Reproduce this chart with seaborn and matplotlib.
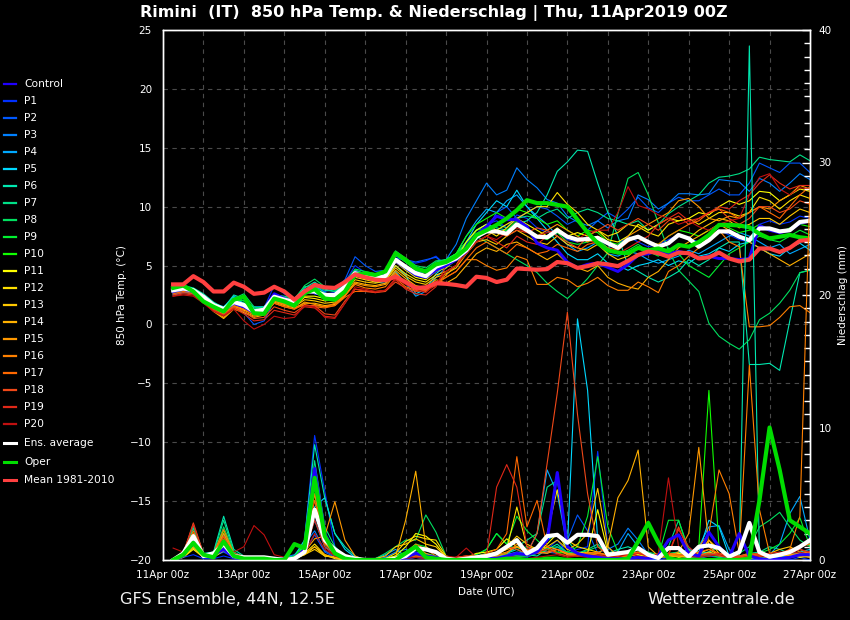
import matplotlib
matplotlib.use("Agg")
import matplotlib.pyplot as plt
import seaborn as sns
import pandas as pd
from matplotlib.lines import Line2D
from matplotlib.ticker import MultipleLocator

# ---------------- data ----------------
HOURS = list(range(6, 385, 6))          # forecast steps (h after 11Apr 00z)
X_TICK_HOURS = [0, 48, 96, 144, 192, 240, 288, 336, 384]
X_TICK_LABELS = ["11Apr 00z", "13Apr 00z", "15Apr 00z", "17Apr 00z", "19Apr 00z",
                 "21Apr 00z", "23Apr 00z", "25Apr 00z", "27Apr 00z"]
MEMBER_NAMES = ["Control"] + [f"P{i}" for i in range(1, 21)]
MEMBER_COLORS = ["#2000ff", "#0030ff", "#0058ff", "#0080ff", "#00a8ff", "#00d8ff",
                 "#00e8b0", "#00e088", "#00e060", "#00f030", "#10ff00",
                 "#ffff00", "#ffe000", "#ffc800", "#ffb000", "#ff9800",
                 "#ff8000", "#ff6800", "#f04818", "#e02818", "#c01010"]

# 850 hPa temperature (degC)
T_CONTROL = [2.8,3.0,2.8,2.2,1.6,1.2,1.8,1.5,1.0,1.3,2.6,2.2,1.8,2.9,2.7,2.5,2.4,3.3,4.4,4.2,4.0,4.2,5.4,4.8,4.2,4.0,4.6,
             5.0,5.5,6.2,7.6,8.3,9.2,8.9,8.9,8.3,6.9,6.5,6.3,5.3,4.8,5.1,5.2,4.85,4.5,5.1,5.9,6.0,6.3,6.0,6.2,6.0,5.6,5.8,5.6,5.6,5.5,5.6,8.4,8.0,7.8,8.0,8.6,8.8]
T_P1 = [2.7,2.9,2.9,2.3,1.5,1.0,1.7,1.4,0.9,1.4,3.3,2.6,2.0,3.0,3.0,2.6,2.7,3.6,5.0,4.4,4.2,4.5,5.8,5.4,5.2,5.4,5.8,
        5.0,5.5,6.8,8.0,8.5,8.8,8.2,9.3,9.0,8.2,7.8,8.0,7.2,7.0,7.5,7.2,6.5,6.8,7.5,7.0,6.6,6.8,7.2,7.6,7.3,7.0,7.5,8.0,7.6,7.2,7.0,8.5,8.8,8.5,8.7,9.2,9.0]
T_P2 = [2.6,2.8,2.6,2.0,1.4,0.8,1.5,1.0,0.0,0.3,2.0,1.8,1.7,2.6,3.2,2.8,3.0,3.8,5.75,5.0,4.5,4.6,5.6,5.5,5.3,5.5,5.7,
        5.0,5.5,6.5,7.5,8.0,9.5,10.0,9.0,9.5,10.0,9.8,9.2,8.5,8.9,8.0,8.8,9.5,9.0,9.8,10.8,9.9,9.5,10.3,10.8,10.5,10.5,11.0,11.5,11.0,11.0,12.0,13.7,13.3,12.9,13.7,13.7,12.9]
T_P3 = [2.5,2.7,2.7,2.2,1.7,1.3,2.3,1.7,1.2,1.4,2.4,2.0,2.0,3.0,2.6,2.4,2.6,3.4,4.6,4.3,4.2,4.4,5.4,4.9,4.5,4.4,5.2,
        5.5,6.8,9.0,10.5,12.0,11.0,11.4,13.3,12.3,11.6,10.6,10.3,9.2,8.7,8.4,8.8,8.2,8.8,9.0,11.0,10.6,9.8,10.3,11.1,11.1,11.0,11.1,12.3,12.2,12.1,11.3,12.4,12.0,11.3,12.0,12.8,12.3]
T_P4 = [2.6,2.8,2.6,2.0,1.6,1.4,2.4,2.0,1.5,1.5,2.6,2.3,2.0,2.9,3.3,2.7,2.4,3.1,4.4,4.0,3.6,3.5,4.5,3.5,2.4,2.8,4.0,
        4.8,6.0,7.5,8.8,9.8,9.5,10.5,11.0,10.0,9.2,8.5,7.5,6.8,6.2,6.5,7.0,6.0,5.8,6.2,6.0,5.5,5.2,5.5,5.8,6.3,6.0,6.5,7.0,7.5,7.8,7.5,7.0,6.5,6.8,6.0,6.4,6.8]
T_P5 = [2.9,3.1,3.0,2.4,1.8,1.5,2.3,1.8,1.3,1.2,2.2,2.0,1.8,2.6,3.0,2.6,2.5,3.0,4.2,4.0,3.7,3.9,5.0,4.2,2.6,3.0,4.3,
        5.0,5.8,7.0,8.5,9.5,10.5,10.0,11.4,10.0,9.0,8.0,7.0,6.0,5.5,5.5,6.0,5.2,5.0,4.6,5.0,5.2,5.5,5.0,5.4,5.2,5.8,6.0,6.5,6.2,6.8,7.0,6.5,6.0,5.8,6.5,6.9,6.3]
T_P6 = [3.2,3.3,3.1,2.6,1.9,1.4,2.5,2.2,1.4,1.5,2.4,2.2,2.0,3.1,3.6,3.0,2.8,3.3,4.4,4.4,4.2,4.3,5.9,5.3,4.7,4.5,5.2,
        5.5,6.0,7.0,8.0,8.5,8.2,8.0,8.5,8.8,9.5,11.0,13.0,13.8,14.8,14.7,12.0,9.5,7.5,5.0,4.5,4.0,3.6,4.0,4.5,5.5,5.0,5.5,6.5,7.0,7.0,-3.4,-3.4,-3.3,-3.9,0.3,4.4,4.6]
T_P7 = [3.0,3.1,2.9,2.3,1.6,1.2,2.0,1.8,1.3,1.5,2.5,2.4,2.2,3.2,3.3,2.9,2.8,3.5,4.6,4.3,4.2,4.4,6.0,5.5,4.9,4.6,5.3,
        5.5,6.0,6.5,7.2,8.0,8.5,8.2,9.0,9.2,9.0,9.5,9.8,9.0,9.5,9.8,9.5,9.0,8.8,8.5,8.8,8.0,8.5,9.4,10.0,10.5,11.0,12.0,12.5,12.6,12.8,13.2,14.2,14.0,13.9,13.8,14.4,13.9]
T_P8 = [3.1,3.2,3.0,2.4,1.7,1.3,2.2,2.6,1.5,1.3,2.5,2.3,2.1,3.3,3.85,3.2,2.9,3.6,4.7,4.5,4.3,4.5,6.25,5.6,5.0,4.8,5.4,
        5.5,6.0,6.5,7.5,7.0,6.5,6.0,5.5,5.0,4.4,3.5,2.8,2.2,3.0,3.9,5.0,6.1,9.4,12.4,12.9,11.0,8.6,6.3,4.6,3.7,2.8,0.1,-1.0,-1.6,-2.1,-1.3,0.4,0.95,1.8,2.9,4.4,4.6]
T_P9 = [2.9,3.2,3.0,2.2,1.5,1.1,2.1,2.0,1.2,1.1,2.3,2.0,1.8,2.9,3.2,2.6,2.5,3.2,4.3,4.2,4.0,4.2,5.9,5.3,4.6,4.4,5.1,
        5.5,6.0,7.0,8.0,8.2,7.8,8.0,8.8,8.2,7.5,7.2,7.8,7.0,6.8,7.0,7.2,6.5,6.0,6.3,6.8,6.2,5.8,6.5,6.0,5.0,4.5,4.0,5.0,6.0,6.5,7.0,7.5,7.2,7.0,7.5,8.0,7.6]
T_P10 = [3.0,3.3,2.9,2.1,1.4,1.0,2.0,2.3,1.0,0.9,2.2,2.0,1.7,2.7,3.0,2.3,2.2,2.9,4.2,4.3,4.1,4.4,6.0,5.4,4.7,4.5,5.2,
         5.3,6.0,7.5,8.5,9.0,9.5,9.0,9.8,9.5,9.0,8.5,8.8,8.0,7.5,8.0,7.8,7.0,6.8,7.3,7.5,7.0,6.8,7.5,8.0,7.8,7.5,8.0,8.5,8.2,7.8,8.0,8.5,8.0,7.8,8.2,8.5,8.3]
T_P11 = [2.8,3.0,2.8,2.2,1.5,1.1,1.6,1.3,1.0,1.2,2.2,1.9,1.6,2.4,2.4,2.2,2.3,3.0,4.2,3.9,3.8,4.0,5.3,4.6,4.0,3.8,4.5,
         4.8,5.5,7.0,8.0,8.5,8.0,8.5,9.0,8.5,8.0,7.5,8.2,7.5,7.8,7.5,8.0,7.2,7.0,7.5,8.5,8.0,8.5,9.0,8.8,9.0,9.5,9.3,10.0,10.5,10.2,10.5,11.3,11.2,10.5,11.0,11.5,11.3]
T_P12 = [2.9,3.1,2.8,2.0,1.3,0.9,1.5,1.3,0.8,1.0,2.0,1.7,1.5,2.3,2.2,2.0,2.1,2.8,4.0,3.8,3.6,3.7,5.0,4.3,3.8,3.6,4.2,
         4.5,5.0,6.5,7.5,8.0,7.5,8.2,9.0,9.5,10.0,10.0,11.2,10.2,9.5,8.5,8.0,7.5,7.8,8.5,8.3,7.8,7.5,8.5,8.8,9.0,8.5,9.0,9.5,9.5,9.2,9.5,10.8,10.5,9.8,10.5,11.0,10.7]
T_P13 = [3.0,3.2,3.0,2.1,1.2,0.6,1.4,1.2,0.9,1.0,2.1,1.8,1.5,2.1,2.0,1.8,1.9,2.7,3.8,3.6,3.5,3.7,4.8,4.1,3.6,3.4,4.0,
         4.3,4.8,6.0,7.0,7.2,6.8,7.5,8.0,7.5,7.0,6.8,7.5,6.8,6.5,6.3,6.8,6.0,5.5,5.8,6.5,6.0,6.3,7.0,7.5,7.3,8.0,8.5,9.0,8.8,8.2,8.5,9.0,9.0,8.5,9.2,9.8,9.5]
T_P14 = [2.7,2.9,2.8,2.0,1.1,0.5,1.3,1.0,0.6,0.8,1.9,1.6,1.4,1.8,1.8,1.6,1.7,2.5,3.6,3.4,3.3,3.5,4.6,3.9,3.3,3.1,3.8,
         3.5,4.0,5.0,6.0,6.5,6.2,6.8,7.0,6.5,6.0,5.5,6.0,5.2,4.8,4.5,5.0,4.0,3.5,3.2,3.0,4.0,4.5,5.5,6.5,7.0,7.5,8.0,8.5,8.0,7.5,7.0,6.5,6.0,5.5,5.0,5.5,6.0]
T_P15 = [2.8,3.0,2.7,1.9,1.2,0.7,1.4,1.1,0.7,0.9,1.8,1.5,1.3,1.9,1.7,1.5,1.6,2.4,3.5,3.3,3.2,3.4,4.4,3.5,3.0,2.9,3.5,
         4.2,5.0,6.0,7.0,7.5,8.0,7.5,8.5,8.0,7.5,8.0,8.5,8.0,7.5,7.0,7.5,7.0,6.5,7.5,8.0,8.5,9.0,9.5,10.5,10.7,10.0,9.0,8.8,9.2,9.0,9.5,10.0,9.8,10.5,11.0,11.8,11.5]
T_P16 = [2.9,3.1,2.9,2.2,1.4,0.9,1.7,1.5,1.0,1.1,2.0,1.7,1.5,1.6,1.6,1.5,1.8,2.5,3.4,3.1,3.0,3.2,4.3,3.6,3.1,3.0,3.6,
         4.0,4.5,5.5,5.5,5.0,4.6,4.8,5.8,5.5,3.4,3.4,4.0,3.8,3.2,3.5,4.0,3.3,2.9,2.9,3.6,3.2,2.7,4.5,5.0,5.8,6.5,7.5,8.0,7.0,6.6,-0.2,-0.2,-0.1,0.6,1.5,1.6,1.0]
T_P17 = [2.6,2.8,2.7,2.1,1.4,1.0,1.6,1.3,0.8,0.9,1.8,1.5,1.3,1.7,1.5,1.4,1.6,2.3,2.8,2.8,2.8,2.9,3.9,3.2,2.9,2.8,3.4,
         4.0,4.5,5.5,6.5,7.0,6.5,6.0,6.8,6.5,6.0,6.2,6.8,6.5,6.2,6.8,7.0,6.5,6.3,7.0,7.5,7.0,6.8,7.5,8.0,8.5,8.8,9.5,9.8,9.5,9.0,9.5,10.0,9.5,9.0,10.0,11.0,11.7]
T_P18 = [2.5,2.7,2.6,2.0,1.3,0.8,1.5,1.1,0.5,0.6,1.5,1.2,1.0,1.6,1.6,0.9,0.8,2.0,3.0,2.8,2.7,2.8,3.6,3.1,2.8,2.9,3.3,
         4.5,5.0,6.5,7.5,8.0,7.8,7.5,8.0,7.8,8.2,8.0,7.5,7.0,6.5,7.5,8.0,8.5,8.0,8.5,9.0,8.5,8.0,8.8,9.2,8.5,9.0,9.5,9.8,9.0,8.5,9.0,10.0,10.0,9.5,9.8,10.5,10.2]
T_P19 = [2.4,2.6,2.5,1.9,1.2,0.8,1.4,0.9,0.3,0.4,1.2,1.0,0.8,1.5,1.4,0.7,0.6,1.8,3.0,2.9,2.7,2.9,3.8,3.0,2.6,2.5,3.2,
         5.0,5.5,6.5,7.0,7.5,7.0,6.5,7.5,7.0,6.8,7.5,8.0,7.5,7.0,7.2,6.8,6.2,6.0,6.5,7.0,7.5,8.5,9.0,9.5,8.8,9.0,9.5,10.0,9.8,10.5,11.0,12.0,12.7,12.0,11.5,11.8,11.8]
T_P20 = [2.4,2.5,2.4,1.8,1.1,0.7,1.3,0.3,-0.4,0.0,0.7,0.5,0.6,1.6,1.5,0.6,0.5,1.8,3.2,3.0,2.8,2.9,3.9,3.4,3.0,2.7,3.5,
         4.5,5.0,6.0,7.0,7.5,7.2,7.8,8.2,7.8,7.5,7.8,8.0,7.5,7.2,7.8,8.0,8.0,9.5,11.7,10.1,9.8,9.3,9.0,8.5,8.8,8.3,8.0,8.5,8.8,9.0,11.0,12.5,12.8,11.5,11.0,11.6,11.5]
T_ENS_AVG = [2.9,3.05,2.9,2.35,1.65,1.3,1.9,1.65,1.1,1.25,2.35,2.1,1.9,2.8,2.8,2.5,2.5,3.2,4.35,4.1,
             3.95,4.1,5.5,4.9,4.35,4.1,4.9,5.25,5.6,6.3,7.45,7.9,7.9,7.7,8.5,8.0,7.45,7.4,8.0,7.45,
             7.2,7.25,7.35,6.9,6.5,7.2,7.45,7.0,6.6,6.9,7.6,7.3,6.6,7.15,7.9,7.9,7.45,7.15,8.15,8.15,
             7.9,8.0,8.7,8.8]
T_OPER = [3.1,3.3,2.8,1.95,1.5,1.1,2.1,2.35,0.95,0.9,2.2,1.95,1.6,2.65,3.0,2.2,2.1,2.8,4.2,4.35,
          4.2,4.5,6.05,5.5,4.75,4.5,5.1,5.3,5.75,6.45,7.6,8.0,8.45,9.0,9.7,10.55,10.3,10.3,10.15,10.0,
          8.9,7.8,6.9,6.3,6.1,6.05,6.5,6.3,6.45,6.2,6.75,6.6,7.0,7.6,8.45,8.45,8.4,8.25,7.7,7.3,
          7.45,7.6,7.4,7.3]
T_MEAN_CLIM = [3.4,3.4,4.1,3.6,2.8,2.8,3.55,3.2,2.6,2.7,3.2,2.8,2.1,2.8,3.35,3.15,3.1,3.6,4.25,4.0,
               3.8,3.75,4.05,3.6,3.1,3.15,3.5,3.45,3.35,3.2,4.05,3.95,3.6,3.8,4.75,4.7,4.65,4.7,5.3,5.2,
               4.8,4.95,5.2,5.1,4.95,5.4,5.9,6.2,6.05,5.75,6.1,6.05,5.6,5.7,6.1,5.6,5.35,5.5,6.45,6.45,
               6.15,6.5,7.1,7.2]

# 6-hourly precipitation (mm)
P_CONTROL = [0.0,0.3,1.5,0.3,0.4,0.8,0.2,0.1, 0.1,0.1,0.0,0.0,0.1,0.8,6.9,2.0, 0.5,0.1,0.0,0.0,0.0,0.0,0.0,0.2, 0.5,0.3,0.2,0.0,0.0,0.0,0.1,0.2,
             0.1,0.3,0.5,0.4,0.6,1.5,6.6,1.0, 0.5,0.3,0.2,0.1,0.1,0.1,0.2,0.1, 0.3,1.5,1.9,0.5,0.3,2.1,1.0,0.2, 2.0,0.3,0.1,0.0,0.1,0.2,0.4,0.4]
P_P1 = [0.0,0.2,0.4,0.1,0.1,0.3,0.1,0.0, 0.0,0.0,0.0,0.0,0.2,1.5,9.4,5.2, 1.0,0.2,0.0,0.0,0.0,0.0,0.0,0.0, 0.2,0.1,0.0,0.0,0.0,0.0,0.0,0.1,
        0.0,0.2,0.3,0.2,0.5,0.8,1.5,0.5, 0.8,1.0,8.2,1.0,0.2,0.1,0.3,0.1, 0.0,0.2,0.5,0.1,0.2,0.3,0.5,0.3, 0.2,0.0,0.1,0.0,0.0,0.0,0.2,0.0]
P_P2 = [0.0,0.3,1.0,0.2,0.3,0.6,0.2,0.1, 0.0,0.1,0.0,0.0,0.1,0.6,1.9,0.6, 0.2,0.0,0.0,0.0,0.0,0.1,0.3,0.5, 0.2,0.1,0.0,0.0,0.0,0.0,0.1,0.3,
        0.2,0.5,0.3,0.3,0.8,0.6,0.5,1.5, 3.4,2.2,0.5,0.3,0.2,0.1,0.2,0.1, 0.2,0.3,0.4,0.2,0.1,0.3,0.2,0.1, 0.3,0.2,0.0,0.1,0.2,0.3,0.4,0.2]
P_P3 = [0.0,0.2,1.2,0.3,0.2,0.9,0.3,0.1, 0.1,0.0,0.1,0.2,0.4,1.2,2.2,0.7, 0.3,0.1,0.0,0.0,0.0,0.2,0.6,0.8, 0.5,0.2,0.1,0.0,0.0,0.1,0.2,0.1,
        0.3,0.2,0.5,0.4,0.6,0.5,1.0,0.4, 0.3,0.5,0.6,0.8,1.2,2.4,1.5,0.4, 0.2,0.5,0.3,0.2,0.4,0.6,0.3,0.2, 0.1,0.2,0.5,0.3,0.1,0.2,0.3,0.5]
P_P4 = [0.0,0.4,1.3,0.4,0.3,2.0,0.5,0.2, 0.1,0.0,0.1,0.1,0.3,0.9,3.0,1.0, 0.5,0.2,0.0,0.0,0.1,0.4,0.8,0.3, 0.5,0.3,0.1,0.0,0.1,0.0,0.1,0.3,
        0.2,0.4,0.6,0.5,2.0,6.8,5.0,1.0, 0.5,0.4,0.3,0.2,0.6,2.0,1.0,0.5, 0.3,0.4,0.6,0.5,1.0,2.5,2.6,0.8, 0.3,0.2,0.1,0.4,1.2,3.5,4.8,1.5]
P_P5 = [0.0,0.3,1.4,0.4,0.2,1.5,0.4,0.2, 0.1,0.0,0.0,0.1,0.3,1.0,4.0,4.7, 2.0,0.8,0.2,0.0,0.0,0.0,0.2,0.4, 0.6,0.4,0.2,0.0,0.0,0.1,0.2,0.3,
        0.3,0.5,1.0,0.8,0.5,1.5,2.0,1.0, 18.2,12.8,1.5,0.4,0.3,0.5,0.4,0.3, 0.2,0.3,0.5,0.8,0.6,3.0,2.5,0.3, 0.2,0.4,0.3,0.1,0.2,0.4,0.6,0.8]
P_P6 = [0.0,0.5,2.6,0.5,0.6,3.3,0.8,0.3, 0.1,0.1,0.0,0.1,0.3,1.5,8.7,4.7, 2.0,1.0,0.3,0.0,0.0,0.0,0.1,0.3, 0.4,0.2,0.1,0.0,0.0,0.1,0.2,0.3,
        0.2,0.5,0.8,0.4,0.3,0.8,1.2,0.5, 0.4,0.3,0.2,0.5,0.8,1.0,0.7,0.3, 0.2,0.4,0.3,0.2,0.5,0.6,1.0,0.3, 0.2,38.8,0.3,0.1,0.2,0.5,0.4,0.3]
P_P7 = [0.0,0.4,2.4,0.4,0.5,3.0,0.6,0.2, 0.1,0.0,0.0,0.1,0.2,1.2,7.5,2.5, 1.0,0.3,0.0,0.0,0.0,0.1,0.2,0.3, 0.4,0.5,0.3,0.1,0.0,0.1,0.3,0.5,
        0.3,0.5,1.0,1.5,2.0,5.5,6.0,1.5, 0.5,0.8,1.2,0.4,0.3,0.3,0.5,0.3, 0.5,1.0,3.0,0.8,0.2,0.3,0.5,0.4, 0.3,0.5,0.6,1.0,0.8,0.5,0.6,0.5]
P_P8 = [0.0,0.4,2.0,0.3,0.4,2.5,0.6,0.2, 0.1,0.1,0.1,0.1,0.3,1.1,5.5,1.5, 0.8,0.2,0.0,0.0,0.1,0.5,1.0,1.5, 1.5,3.4,2.1,0.3,0.1,0.2,0.4,0.8,
        2.0,1.2,0.8,1.0,0.6,0.9,1.0,0.6, 0.5,0.7,1.0,0.6,0.4,0.5,0.8,0.6, 0.4,0.5,0.6,0.3,0.2,0.5,0.3,0.2, 0.5,1.0,2.5,3.0,3.6,2.5,1.5,1.0]
P_P9 = [0.0,0.3,1.5,0.2,0.3,1.8,0.4,0.1, 0.0,0.0,0.0,0.1,0.2,1.3,5.0,1.2, 0.5,0.1,0.0,0.0,0.0,0.1,0.3,0.6, 1.2,1.0,0.5,0.1,0.0,0.2,0.4,0.8,
        2.0,1.2,3.3,2.2,1.5,0.8,0.5,0.6, 1.0,3.3,7.8,2.5,0.6,0.3,0.4,0.3, 0.3,3.0,3.0,0.6,0.3,0.4,0.2,0.3, 0.2,0.3,0.5,0.8,1.2,2.0,3.2,1.0]
P_P10 = [0.0,0.5,1.8,0.4,0.2,2.2,0.5,0.1, 0.1,0.0,0.0,0.1,0.2,1.0,5.8,2.0, 0.5,0.1,0.0,0.0,0.0,0.0,0.1,0.2, 0.3,0.4,0.2,0.1,0.0,0.0,0.2,0.5,
         0.5,0.4,0.3,0.3,0.5,0.8,0.6,0.5, 0.3,0.4,0.5,0.4,0.2,0.1,0.3,0.2, 0.3,0.2,0.4,0.2,1.0,12.8,1.0,0.3, 0.2,0.1,0.2,0.3,0.4,0.6,0.8,0.5]
P_P11 = [0.0,0.2,0.8,0.2,0.2,0.7,0.2,0.1, 0.0,0.0,0.0,0.0,0.1,0.4,1.0,0.3, 0.2,0.0,0.0,0.0,0.0,0.1,0.3,1.0, 2.0,1.8,1.2,0.2,0.1,0.2,0.5,0.6,
         0.8,1.6,1.0,0.7,0.6,1.2,2.0,0.8, 0.6,0.5,3.8,0.6,0.3,0.5,0.4,0.2, 0.3,0.4,0.2,0.3,0.5,0.8,0.4,0.2, 0.1,0.3,0.5,0.2,0.3,0.4,0.2,0.3]
P_P12 = [0.0,0.2,0.9,0.2,0.3,1.2,0.2,0.1, 0.0,0.0,0.0,0.0,0.1,0.5,1.2,0.4, 0.1,0.0,0.0,0.0,0.0,0.1,0.5,1.4, 1.8,1.6,1.5,0.3,0.1,0.1,0.2,0.3,
         0.5,0.8,4.0,1.0,0.8,2.0,5.3,1.5, 1.0,0.8,0.6,0.3,0.2,0.4,0.3,0.2, 0.2,0.3,0.5,0.4,0.6,1.5,0.5,0.3, 0.2,0.1,0.3,0.2,0.4,0.3,0.5,0.4]
P_P13 = [0.0,0.3,1.0,0.3,0.3,1.5,0.3,0.1, 0.0,0.0,0.1,0.0,0.1,0.4,0.8,0.3, 0.2,0.1,0.0,0.0,0.1,0.3,1.0,1.2, 1.6,1.2,1.0,0.2,0.1,0.2,0.3,0.4,
         0.6,1.0,1.8,1.2,0.8,1.0,1.5,0.8, 1.2,2.0,5.4,1.0,0.3,0.4,0.5,0.3, 0.3,0.5,0.4,0.2,0.3,0.6,0.4,0.2, 0.1,0.3,0.2,0.5,0.8,1.0,0.6,0.4]
P_P14 = [0.0,0.3,1.2,0.3,0.4,1.8,0.3,0.1, 0.0,0.0,0.0,0.0,0.1,0.5,1.0,0.4, 0.2,0.0,0.0,0.0,0.0,0.1,0.2,3.0, 6.7,1.0,0.5,0.2,0.1,0.2,0.3,0.4,
         0.5,0.8,1.0,0.6,0.5,1.0,0.8,0.5, 0.4,0.6,0.5,1.0,4.7,6.0,8.3,1.0, 0.3,0.2,0.3,0.2,0.4,1.5,0.8,0.3, 0.2,0.4,0.3,0.2,0.3,0.5,0.3,0.2]
P_P15 = [0.0,0.3,1.5,0.3,0.4,2.0,0.4,0.1, 0.0,0.0,0.0,0.0,0.1,0.6,1.6,1.8, 4.4,1.5,0.3,0.0,0.0,0.0,0.1,0.4, 1.0,0.5,0.2,0.1,0.0,0.1,0.2,0.3,
         0.4,0.6,1.0,0.8,0.6,0.5,0.8,0.4, 0.3,0.5,0.4,0.3,0.2,0.3,0.5,0.3, 0.2,0.3,0.6,2.0,8.5,1.0,0.4,0.3, 0.2,0.3,0.4,0.2,0.3,0.4,0.5,0.6]
P_P16 = [0.0,0.4,2.2,0.4,0.5,2.3,0.5,0.2, 0.1,0.0,0.0,0.1,0.2,0.8,5.0,1.2, 0.5,0.1,0.0,0.0,0.0,0.0,0.2,0.5, 1.2,0.8,0.3,0.1,0.0,0.1,0.2,0.2,
         0.3,0.5,1.2,0.8,0.5,0.6,0.8,0.5, 0.4,0.3,0.5,0.4,0.3,0.5,0.6,0.3, 0.2,0.4,0.3,0.5,1.0,2.0,6.8,5.0, 0.5,14.7,3.8,0.5,0.3,0.8,3.3,28.0]
P_P17 = [0.0,0.4,2.0,0.4,0.4,1.6,0.4,0.1, 0.1,0.0,0.0,0.1,0.2,0.7,4.5,1.3, 0.4,0.1,0.0,0.0,0.0,0.0,0.1,0.2, 0.3,0.2,0.1,0.1,0.2,0.3,0.2,0.5,
         0.8,2.0,7.8,2.5,4.5,1.0,0.5,0.3, 0.4,0.5,0.6,0.3,0.2,0.4,0.6,0.3, 0.3,0.5,0.4,0.3,0.6,0.8,0.5,0.4, 0.3,0.5,0.4,0.3,0.5,0.8,1.0,1.2]
P_P18 = [0.0,0.5,2.8,0.5,0.4,1.8,0.4,0.2, 0.1,0.0,0.1,0.1,0.2,0.8,6.3,1.5, 0.5,0.2,0.0,0.0,0.0,0.0,0.1,0.2, 0.3,0.2,0.1,0.1,0.2,0.3,0.2,0.3,
         0.5,1.0,0.8,0.5,2.0,7.3,12.6,18.7, 11.0,5.0,1.0,0.4,0.3,0.3,0.5,0.3, 0.2,0.4,2.5,0.6,0.4,0.5,0.3,0.2, 0.3,0.4,0.5,0.3,0.4,0.6,0.8,0.5]
P_P19 = [0.0,0.5,2.7,0.4,0.3,1.5,0.5,0.3, 0.2,0.1,0.0,0.0,0.1,0.6,3.0,1.0, 0.3,0.1,0.0,0.0,0.0,0.0,0.1,0.3, 0.4,0.3,0.2,0.1,0.2,0.3,0.3,0.3,
         5.5,7.2,5.5,1.0,0.6,0.8,0.5,0.3, 0.3,0.4,0.3,0.2,0.3,0.4,0.5,0.3, 0.3,0.4,2.3,1.0,0.3,0.4,0.5,0.3, 0.2,0.3,0.4,0.5,0.6,0.5,0.8,0.6]
P_P20 = [0.9,0.6,1.8,0.5,0.3,0.8,0.6,1.0, 2.6,1.9,0.4,0.2,0.1,0.5,2.0,0.8, 0.3,0.1,0.0,0.0,0.0,0.0,0.1,0.1, 0.2,0.1,0.1,0.3,0.2,0.9,0.2,0.1,
         0.2,0.3,0.2,0.1,0.2,0.3,0.4,0.2, 0.3,0.2,0.4,0.3,0.2,0.5,0.3,0.2, 0.5,6.2,1.0,0.3,0.2,0.3,0.4,0.2, 0.1,0.2,0.3,0.2,0.4,0.5,0.6,0.4]
P_ENS_AVG = [0.0,0.5,1.8,0.3,0.5,1.2,0.3,0.2,0.2,0.2, 0.1,0.0,0.1,0.6,3.8,1.5,0.8,0.3,0.1,0.0,
             0.0,0.0,0.1,0.3,0.9,0.8,0.6,0.1,0.0,0.1, 0.2,0.3,0.5,1.0,1.5,0.5,0.9,1.8,1.9,1.3,
             1.9,1.9,1.8,0.4,0.5,0.6,0.9,0.4,0.15,0.9, 0.9,0.25,1.0,1.1,0.9,0.25,0.6,2.8,0.6,0.25,
             0.4,0.6,1.0,1.5]
P_OPER = [0.0,0.4,1.3,0.4,0.2,1.4,0.3,0.1, 0.1,0.1,0.0,0.0,1.2,0.9,6.2,1.8, 0.5,0.1,0.0,0.0,0.0,0.0,0.0,0.5, 1.0,0.2,0.1,0.0,0.0,0.0,0.0,0.0,
          0.0,0.1,0.1,0.0,0.0,0.1,0.1,0.0, 0.0,0.0,0.0,0.0,0.0,0.1,1.4,2.8, 1.3,0.1,0.0,0.0,0.0,0.0,0.0,0.0, 0.0,0.1,4.5,10.0,6.8,3.0,2.5,2.0]

T_MEMBERS = [T_CONTROL, T_P1, T_P2, T_P3, T_P4, T_P5, T_P6, T_P7, T_P8, T_P9, T_P10,
             T_P11, T_P12, T_P13, T_P14, T_P15, T_P16, T_P17, T_P18, T_P19, T_P20]
P_MEMBERS = [P_CONTROL, P_P1, P_P2, P_P3, P_P4, P_P5, P_P6, P_P7, P_P8, P_P9, P_P10,
             P_P11, P_P12, P_P13, P_P14, P_P15, P_P16, P_P17, P_P18, P_P19, P_P20]

bad = []
for nm, t, p in zip(MEMBER_NAMES, T_MEMBERS, P_MEMBERS):
    if len(t) != len(HOURS): bad.append(f"T {nm} {len(t)}")
    if len(p) != len(HOURS): bad.append(f"P {nm} {len(p)}")
for nm, s in [("T_AVG", T_ENS_AVG), ("T_OPER", T_OPER), ("T_MEAN", T_MEAN_CLIM),
              ("P_AVG", P_ENS_AVG), ("P_OPER", P_OPER)]:
    if len(s) != len(HOURS): bad.append(f"{nm} {len(s)}")
if bad:
    raise SystemExit("length mismatch: " + ", ".join(bad))

# long-form tables
rows = []
for nm, t, p in zip(MEMBER_NAMES, T_MEMBERS, P_MEMBERS):
    for h, tv, pv in zip(HOURS, t, p):
        rows.append((nm, h, tv, pv))
df = pd.DataFrame(rows, columns=["member", "hour", "temp", "precip"])
df_p = df[df.member != "Control"]
palette = dict(zip(MEMBER_NAMES, MEMBER_COLORS))

# ---------------- figure ----------------
plt.rcParams["font.family"] = ["DejaVu Sans"]
W, H = 850, 620
fig = plt.figure(figsize=(W / 100, H / 100), dpi=100, facecolor="black")
ax = fig.add_axes([163 / W, 60 / H, 647 / W, 530 / H])
ax.set_facecolor("black")
ax2 = ax.twinx()

thin = 0.8
# temperature
sns.lineplot(data=df_p, x="hour", y="temp", hue="member", palette=palette,
             linewidth=thin, legend=False, ax=ax, estimator=None, sort=False)
sns.lineplot(x=HOURS, y=T_CONTROL, color=MEMBER_COLORS[0], linewidth=2.2, ax=ax)
sns.lineplot(x=HOURS, y=T_ENS_AVG, color="white", linewidth=3.0, ax=ax)
sns.lineplot(x=HOURS, y=T_OPER, color="#00dd00", linewidth=3.0, ax=ax)
sns.lineplot(x=HOURS, y=T_MEAN_CLIM, color="#ff4040", linewidth=3.0, ax=ax)

# precipitation
sns.lineplot(data=df_p, x="hour", y="precip", hue="member", palette=palette,
             linewidth=thin, legend=False, ax=ax2, estimator=None, sort=False)
sns.lineplot(x=HOURS, y=P_CONTROL, color=MEMBER_COLORS[0], linewidth=2.2, ax=ax2)
sns.lineplot(x=HOURS, y=P_ENS_AVG, color="white", linewidth=3.0, ax=ax2)
sns.lineplot(x=HOURS, y=P_OPER, color="#00dd00", linewidth=3.0, ax=ax2)

# axes styling
ax.set_xlim(0, 384)
ax.set_ylim(-20, 25)
ax2.set_ylim(0, 40)
ax.set_xticks(X_TICK_HOURS)
ax.set_xticklabels(X_TICK_LABELS)
ax.xaxis.set_minor_locator(MultipleLocator(24))
ax.set_yticks(range(-20, 26, 5))
grid_kw = dict(color="#4a4a4a", linestyle=(0, (4, 4)), linewidth=0.8)
ax.grid(False)
ax.grid(True, which="both", axis="x", **grid_kw)
ax.grid(True, which="major", axis="y", **grid_kw)
ax.set_axisbelow(True)
ax2.grid(False)
ax.tick_params(axis="both", which="both", length=0, colors="white", labelsize=7.5)
ax.tick_params(axis="y", pad=8)
ax.tick_params(axis="x", pad=7)
ax2.set_yticks([0, 10, 20, 30, 40])
ax2.yaxis.set_minor_locator(MultipleLocator(1))
ax2.tick_params(axis="y", which="major", direction="in", length=6, width=1,
                color="white", labelcolor="white", labelsize=7.5, pad=6)
ax2.tick_params(axis="y", which="minor", direction="in", length=4, width=1, color="white")
for a in (ax, ax2):
    for s in a.spines.values():
        s.set_color("white")
        s.set_linewidth(1)

ax.set_xlabel("Date (UTC)", color="white", fontsize=7.5, labelpad=5)
ax.set_ylabel("850 hPa Temp. (°C)", color="white", fontsize=7.5, labelpad=2)
ax2.set_ylabel("Niederschlag (mm)", color="white", fontsize=7.5, labelpad=5)

# texts
fig.text(434 / W, 1 - 13 / H, "Rimini  (IT)  850 hPa Temp. & Niederschlag | Thu, 11Apr2019 00Z",
         color="white", fontsize=11.5, fontweight="bold", ha="center", va="center")
fig.text(120 / W, 1 - 600 / H, "GFS Ensemble, 44N, 12.5E", color="#f0f0f0",
         fontsize=11.6, ha="left", va="center")
fig.text(795 / W, 1 - 600 / H, "Wetterzentrale.de", color="#f0f0f0",
         fontsize=11.8, ha="right", va="center")

# legend (left, outside)
LEGEND_LABELS = MEMBER_NAMES + ["Ens. average", "Oper", "Mean 1981-2010"]
LEGEND_COLORS = MEMBER_COLORS + ["white", "#00dd00", "#ff4040"]
ys = [84 + 17 * i for i in range(21)] + [443, 462, 480]
for i, (lab, col, y) in enumerate(zip(LEGEND_LABELS, LEGEND_COLORS, ys)):
    yf = 1 - y / H
    fig.add_artist(Line2D([4 / W, 16 / W], [yf, yf], transform=fig.transFigure,
                          color=col, linewidth=2.2 if i >= 21 else 1.6))
    fig.text(24 / W, yf, lab, color="white", fontsize=7.7, ha="left", va="center")

fig.savefig("out.png", dpi=100, facecolor="black")
